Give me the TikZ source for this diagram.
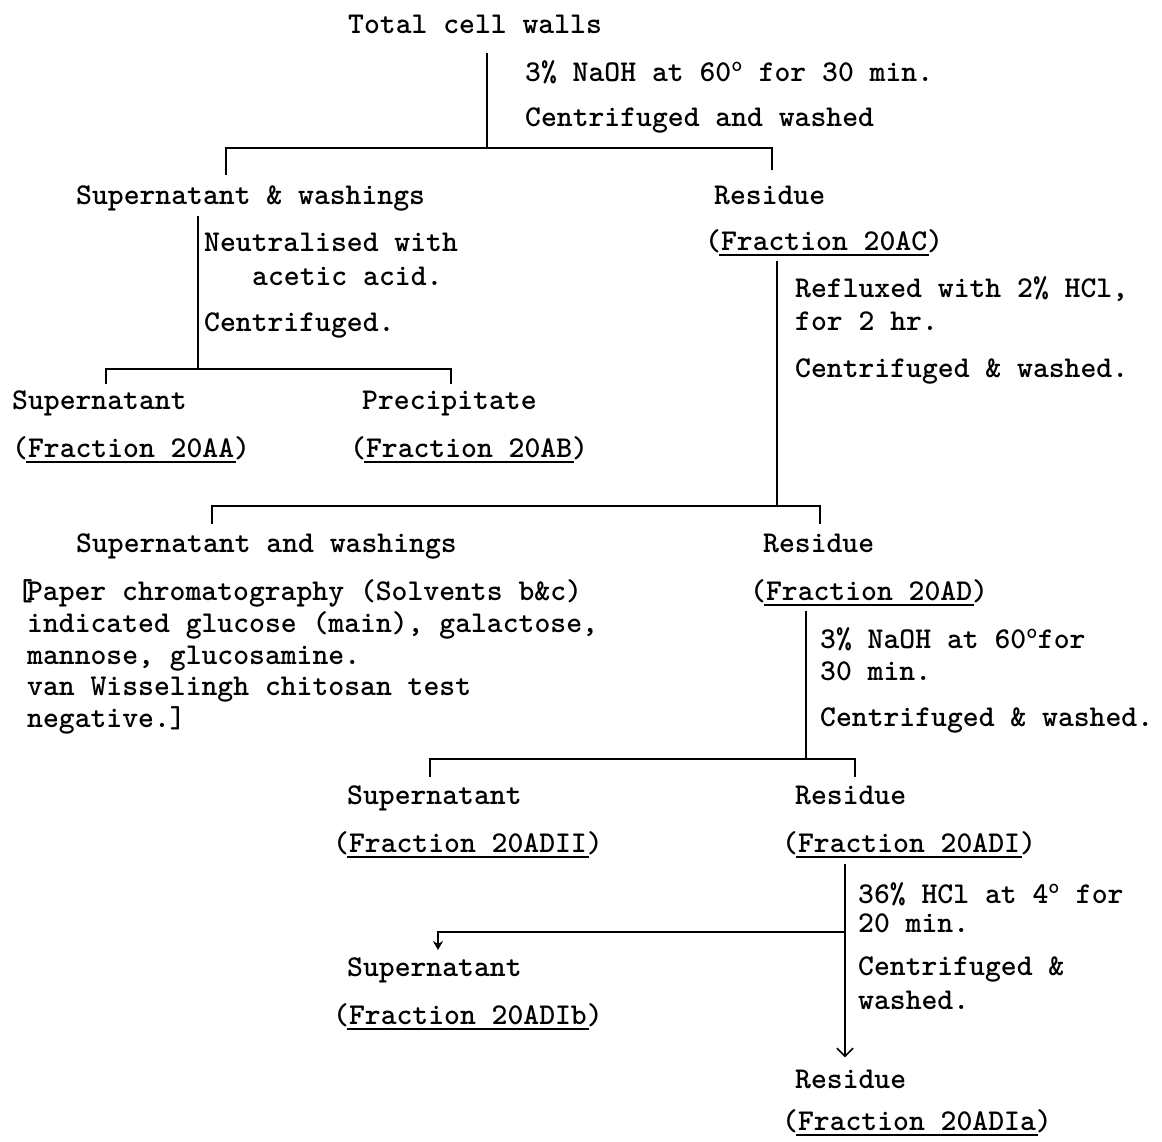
\documentclass[tikz,border=0pt]{standalone}
\usetikzlibrary{arrows.meta}
\newcommand\ulin[1]{\leavevmode\setbox0=\hbox{#1}\rlap{\kern-2pt\vrule width \dimexpr\wd0+4pt\relax height -4pt depth 6.2pt}\box0}
\begin{document}
\begin{tikzpicture}[x=1pt,y=-1pt,
  txt/.style={anchor=base west, inner sep=0pt, font=\fontsize{30.2}{32}\selectfont\ttfamily\fontseries{b}\selectfont},
  ln/.style={line width=1.7pt},
  barb/.style={-{Straight Barb[length=8pt,width=16pt,line width=1.6pt]}},
  stub/.style={-{Stealth[length=9pt,width=10pt]}}
  ]
\useasboundingbox[fill=white] (0,0) rectangle (1162,1141);
% ---- texts
\node[txt] (tcw) at (348,33) {Total cell walls};
\node[txt] (c0a) at (525,81) {3\% NaOH at 60\textsuperscript{o} for 30 min.};
\node[txt] (c0b) at (525,126) {Centrifuged and washed};
\node[txt] (sw) at (76,204) {Supernatant \& washings};
\node[txt] (res1) at (714,204) {Residue};
\node[txt] (f20ac) at (705,250) {(\ulin{Fraction 20AC})};
\node[txt] (cL1a) at (204,251) {Neutralised with};
\node[txt] (cL1b) at (252,285) {acetic acid.};
\node[txt] (cL1c) at (204,331) {Centrifuged.};
\node[txt] (cR1a) at (795,297) {Refluxed with 2\% HCl,};
\node[txt] (cR1b) at (795,330) {for 2 hr.};
\node[txt] (cR1c) at (795,377) {Centrifuged \& washed.};
\node[txt] (sup1) at (12,409) {Supernatant};
\node[txt] (f20aa) at (12,457) {(\ulin{Fraction 20AA})};
\node[txt] (prec) at (362,409) {Precipitate};
\node[txt] (f20ab) at (350,457) {(\ulin{Fraction 20AB})};
\node[txt] (saw) at (76,552) {Supernatant and washings};
\node[txt] (res2) at (763,552) {Residue};
\node[txt] (f20ad) at (750,600) {(\ulin{Fraction 20AD})};
\node[txt] (pc1) at (17,600) {[\kern-6pt Paper chromatography (Solvents b\&c)};
\node[txt] (pc2) at (27,632) {indicated glucose (main), galactose,};
\node[txt] (pc3) at (27,664) {mannose, glucosamine.};
\node[txt] (pc4) at (27,695) {van Wisselingh chitosan test};
\node[txt] (pc5) at (27,727) {negative.]};
\node[txt] (cR2a) at (820,648) {3\% NaOH at 60\textsuperscript{o}for};
\node[txt] (cR2b) at (820,680) {30 min.};
\node[txt] (cR2c) at (820,726) {Centrifuged \& washed.};
\node[txt] (sup3) at (347,804) {Supernatant};
\node[txt] (f20adii) at (333,852) {(\ulin{Fraction 20ADII})};
\node[txt] (res3) at (795,804) {Residue};
\node[txt] (f20adi) at (782,852) {(\ulin{Fraction 20ADI})};
\node[txt] (cR3a) at (858,903) {36\% HCl at 4\textsuperscript{o} for};
\node[txt] (cR3b) at (858,932) {20 min.};
\node[txt] (cR3c) at (858,975) {Centrifuged \&};
\node[txt] (cR3d) at (858,1009) {washed.};
\node[txt] (sup4) at (347,976) {Supernatant};
\node[txt] (f20adib) at (333,1024) {(\ulin{Fraction 20ADIb})};
\node[txt] (res4) at (795,1088) {Residue};
\node[txt] (f20adia) at (782,1130) {(\ulin{Fraction 20ADIa})};
% ---- junctions and tick ends
\coordinate (j0) at (487,148);
\coordinate (t1L) at (226,175);
\coordinate (t1R) at (772,170);
\coordinate (j1) at (198,369);
\coordinate (t3L) at (106,384);
\coordinate (t3R) at (451,384);
\coordinate (j2) at (777,506);
\coordinate (t2L) at (212,524);
\coordinate (t2R) at (820,524);
\coordinate (j3) at (806,759);
\coordinate (t4L) at (430,777);
\coordinate (t4R) at (855,777);
\coordinate (j4) at (845,932);
\coordinate (t5) at (438,950);
% ---- connectors
\draw[ln, shorten <=20pt] (tcw.south -| j0) -- (j0);
\draw[ln] (t1L) |- (j0) -| (t1R);
\draw[ln, shorten <=5pt] (sw.south -| j1) -- (j1);
\draw[ln] (t3L) |- (j1) -| (t3R);
\draw[ln, shorten <=5pt] (f20ac.south -| j2) -- (j2);
\draw[ln] (t2L) |- (j2) -| (t2R);
\draw[ln, shorten <=5pt] (f20ad.south -| j3) -- (j3);
\draw[ln] (t4L) |- (j3) -| (t4R);
\draw[ln, barb, shorten <=6pt, shorten >=12pt] (f20adi.south -| j4) -- (res4.north -| j4);
\draw[ln, stub] (j4) -| (t5);
\end{tikzpicture}
\end{document}
